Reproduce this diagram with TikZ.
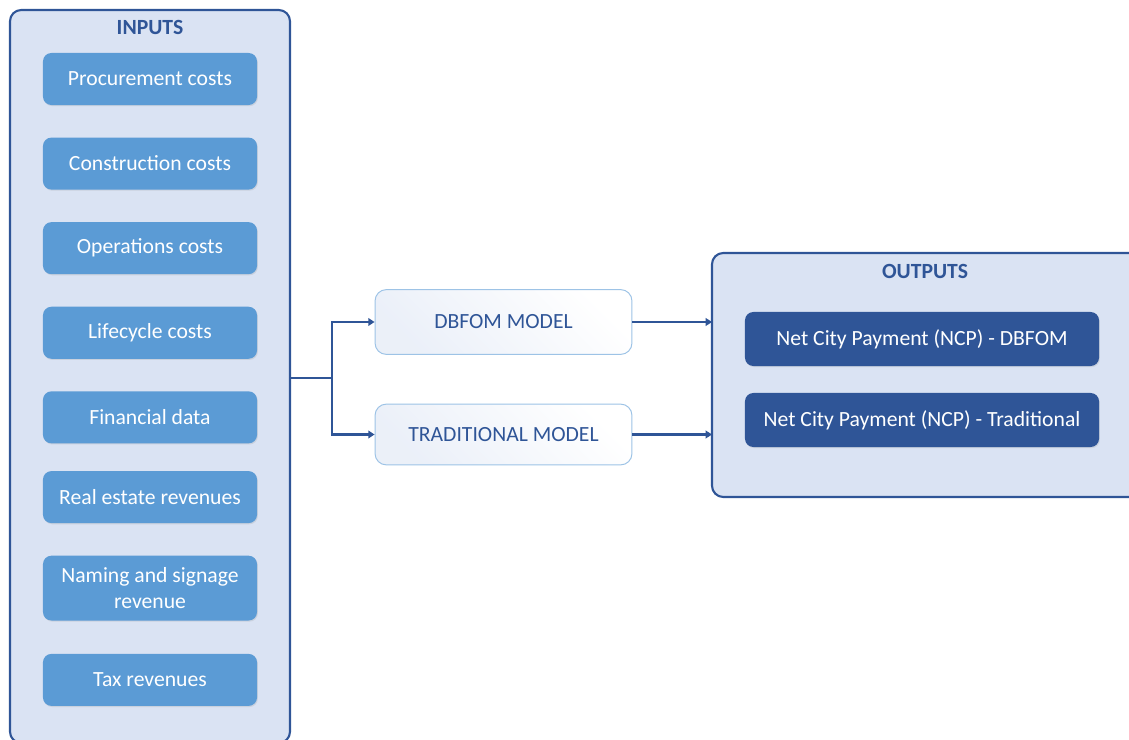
\documentclass[tikz,border=0pt]{standalone}
\usepackage{fontspec}
\setmainfont{Carlito}
\usepackage{xcolor}
\usetikzlibrary{positioning,shadows,calc,arrows.meta}

\definecolor{frameblue}{HTML}{2F5597}
\definecolor{panelfill}{HTML}{DAE3F3}
\definecolor{inputfill}{HTML}{5B9BD5}
\definecolor{modelline}{HTML}{9DC3E6}

\begin{document}
\begin{tikzpicture}[x=0.025cm, y=-0.025cm,
				panel/.style={draw=frameblue, line width=1.5pt, fill=panelfill, rounded corners=8pt},
				paneltitle/.style={font=\fontsize{15.4}{17}\selectfont\bfseries, text=frameblue},
				input/.style={rectangle, rounded corners=6pt, fill=inputfill, text=white, minimum width=5.35cm, minimum height=1.3cm, align=center, font=\fontsize{15.4}{18}\selectfont, drop shadow={opacity=0.18, shadow xshift=0.6pt, shadow yshift=-0.8pt}},
				model/.style={rectangle, rounded corners=8pt, draw=modelline, line width=0.7pt, left color=panelfill!55, right color=white, shading angle=135, minimum width=6.42cm, text=frameblue, font=\fontsize{15.4}{18}\selectfont},
				output/.style={rectangle, rounded corners=6pt, fill=frameblue, text=white, minimum width=8.85cm, minimum height=1.35cm, font=\fontsize{15.4}{18}\selectfont, drop shadow={opacity=0.18, shadow xshift=0.6pt, shadow yshift=-0.8pt}},
				link/.style={draw=frameblue, line width=1.7pt, -{Triangle[width=5.5pt,length=4.5pt]}},
				node distance=0.8cm
				]
				\useasboundingbox (0,0) rectangle (1129,740);
				
				% panels
				\draw[panel] (10,10) rectangle (290,743);
				\node[paneltitle] (intitle) at (150,27) {INPUTS};
				\draw[panel] (712,253) rectangle (1140,497);
				\node[paneltitle] (outtitle) at (925,271) {OUTPUTS};
				
				% inputs
				\node[input] (procurement) at (150,79) {Procurement costs};
				\node[input, below=of procurement] (construction) {Construction costs};
				\node[input, below=of construction] (operations) {Operations costs};
				\node[input, below=of operations] (lifecycle) {Lifecycle costs};
				\node[input, below=of lifecycle] (financial) {Financial data};
				\node[input, below=0.68cm of financial] (realestate) {Real estate revenues};
				\node[input, below=of realestate, minimum height=1.62cm] (naming) {Naming and signage\\revenue};
				\node[input, below=0.82cm of naming] (tax) {Tax revenues};
				
				% models
				\node[model, minimum height=1.62cm] (dbfom) at (503.5,322) {DBFOM MODEL};
				\node[model, minimum height=1.52cm] (traditional) at (503.5,434.5) {TRADITIONAL MODEL};
				
				% outputs
				\node[output] (ncpdbfom) at (922,339) {Net City Payment (NCP) - DBFOM};
				\node[output] (ncptrad) at (922,420) {Net City Payment (NCP) - Traditional};
				
				% connectors
				\coordinate (inout) at (290,378);
				\coordinate (fork) at (332,378);
				\coordinate (outedge) at (712,378);
				\draw[draw=frameblue, line width=1.7pt] (inout) -- (fork);
				\draw[link] (fork) |- (dbfom.west);
				\draw[link] (fork) |- (traditional.west);
				\draw[link] (dbfom.east) -- (dbfom.east -| outedge);
				\draw[link] (traditional.east) -- (traditional.east -| outedge);
			\end{tikzpicture}
\end{document}
